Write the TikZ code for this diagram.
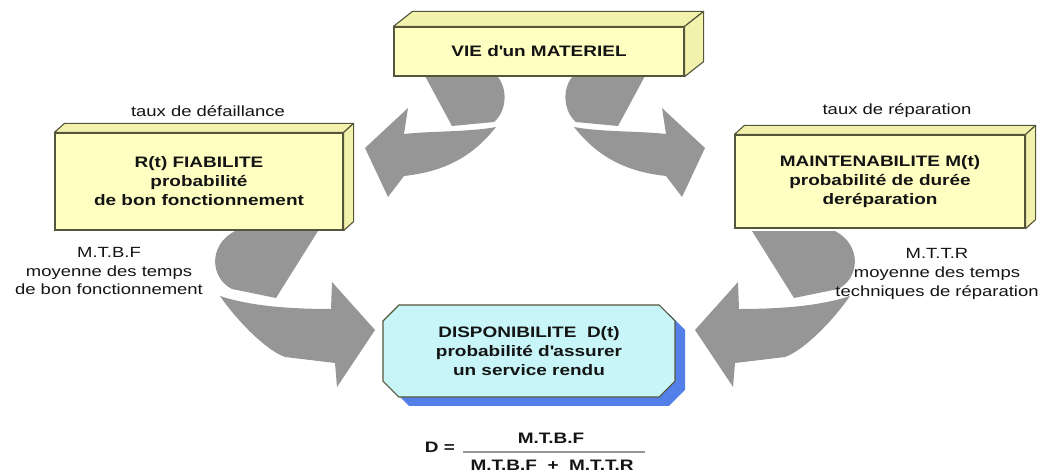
\documentclass[tikz,border=0pt]{standalone}
\usepackage{fontspec}
\setmainfont{Liberation Sans}[FakeStretch=1.25]
\usepackage{tikz}
\usetikzlibrary{calc}
\usetikzlibrary{shapes.misc}
\usetikzlibrary{shadows}

\definecolor{boxyellow}{RGB}{255,255,194}
\definecolor{sideyellow}{RGB}{242,242,172}
\definecolor{boxedge}{RGB}{85,85,60}
\definecolor{boxcyan}{RGB}{200,246,248}
\definecolor{shadowblue}{RGB}{82,128,232}
\definecolor{arrowgray}{RGB}{150,150,150}
\definecolor{textdark}{RGB}{20,20,20}

% curved arrows (pixel units), mirrored for the right side
\newcommand{\arrowTop}{%
  \fill[arrowgray] (425,76) -- (497,76) .. controls (508,88) and (507,111) .. (494,122) -- (452,126) -- cycle;
  \fill[arrowgray] (496,127) .. controls (470,132) and (430,131) .. (404,134) -- (408,108) -- (365,148)
    -- (388,197) -- (404,176) .. controls (440,172) and (470,160) .. (496,127) -- cycle;}
\newcommand{\arrowBottom}{%
  \fill[arrowgray] (235,231) -- (318,231) -- (276,298) -- (232,289) .. controls (210,278) and (208,245) .. (235,231) -- cycle;
  \fill[arrowgray] (220,296) .. controls (250,306) and (290,309) .. (331,309) -- (332,282) -- (375,330)
    -- (337,387) -- (335,363) -- (285,357) .. controls (265,350) and (235,318) .. (220,296) -- cycle;}

\begin{document}
\begin{tikzpicture}[x=0.025cm, y=-0.025cm,
    every node/.style={font=\fontsize{10.5}{13.5}\selectfont, text=textdark},
    boite/.style={draw=boxedge, fill=boxyellow, line width=0.8pt, align=center, inner sep=0pt,
        font=\fontsize{10.8}{13.5}\selectfont\bfseries},
    face/.style={draw=boxedge, fill=sideyellow, line width=0.8pt, line join=round},
    dispo/.style={chamfered rectangle, chamfered rectangle xsep=0.2cm, chamfered rectangle ysep=0.2cm,
        draw=boxedge, fill=boxcyan, line width=0.8pt, align=center, inner sep=0pt,
        minimum width=7.3cm, minimum height=2.3cm, font=\fontsize{10.8}{13.5}\selectfont\bfseries,
        drop shadow={shadow xshift=0.25cm, shadow yshift=-0.22cm, fill=shadowblue, opacity=1}},
    etiquette/.style={align=center}]
    \useasboundingbox (0,0) rectangle (1042,474);

    % arrows
    \arrowTop
    \begin{scope}[shift={(1070,0)}, xscale=-1] \arrowTop \end{scope}
    \arrowBottom
    \begin{scope}[shift={(1070,0)}, xscale=-1] \arrowBottom \end{scope}

    % boxes
    \node[boite, minimum width=7.25cm, minimum height=1.225cm] (vie) at (539,51.5) {VIE d\textquotesingle un MATERIEL};
    \draw[face] (vie.north west) -- ++(19,-15) -- ($(vie.north east)+(19,-15)$) -- (vie.north east) -- cycle;
    \draw[face] (vie.north east) -- ++(19,-15) -- ($(vie.south east)+(19,-15)$) -- (vie.south east) -- cycle;

    \node[boite, minimum width=7.2cm, minimum height=2.425cm] (fiabilite) at (199,181.5)
        {R(t) FIABILITE\\probabilité\\de bon fonctionnement};
    \draw[face] (fiabilite.north west) -- ++(10,-9) -- ($(fiabilite.north east)+(10,-9)$) -- (fiabilite.north east) -- cycle;
    \draw[face] (fiabilite.north east) -- ++(10,-9) -- ($(fiabilite.south east)+(10,-9)$) -- (fiabilite.south east) -- cycle;

    \node[boite, minimum width=7.25cm, minimum height=2.325cm] (maintenabilite) at (880,181.5)
        {MAINTENABILITE M(t)\\probabilité de durée\\deréparation};
    \draw[face] (maintenabilite.north west) -- ++(10,-9) -- ($(maintenabilite.north east)+(10,-9)$) -- (maintenabilite.north east) -- cycle;
    \draw[face] (maintenabilite.north east) -- ++(10,-9) -- ($(maintenabilite.south east)+(10,-9)$) -- (maintenabilite.south east) -- cycle;

    \node[dispo] (disponibilite) at (529,351)
        {DISPONIBILITE~~D(t)\\probabilité d\textquotesingle assurer\\un service rendu};

    % labels
    \node[etiquette] (defaillance) at (208,111) {taux de défaillance};
    \node[etiquette] (reparation) at (897,111) {taux de réparation};
    \node[etiquette] (mtbf) at (109,271) {M.T.B.F\\moyenne des temps\\de bon fonctionnement};
    \node[etiquette] (mttr) at (937,274) {M.T.T.R\\moyenne des temps\\techniques de réparation};

    % formula
    \node[font=\fontsize{10.8}{13.5}\selectfont\bfseries] (d) at (440,447) {D =};
    \node[font=\fontsize{10.8}{13.5}\selectfont\bfseries] (num) at (551,438) {M.T.B.F};
    \node[font=\fontsize{10.8}{13.5}\selectfont\bfseries] (den) at (552,465) {M.T.B.F~ + ~M.T.T.R};
    \draw[arrowgray, line width=1.5pt] (463,452) -- (645,452);
\end{tikzpicture}
\end{document}
